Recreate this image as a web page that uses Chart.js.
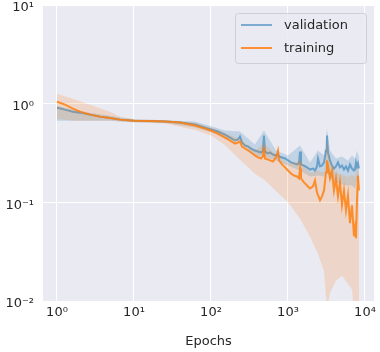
<!DOCTYPE html>
<html>
<head>
<meta charset="utf-8">
<script src="https://cdn.jsdelivr.net/npm/chart.js@4"></script>
<style>
    body { margin: 0; background: #ffffff; }
    #lossChart { display: block; }
</style>
</head>
<body>
<canvas id="lossChart" width="380" height="352"></canvas>
<script>
// Loss curves (validation / training) over epochs, log-log axes

// Mean curves
const epochs = [
    1, 1.27, 1.61, 1.99, 2.68, 3.6, 4.88, 6.6, 10, 16.1,
    25.3, 39.6, 62, 83.6, 103, 123, 152, 177, 205, 224,
    238, 253, 276, 303, 331, 372, 408, 446, 473, 487,
    502, 550, 583, 638, 698, 741, 764, 836, 915, 1000,
    1094, 1197, 1309, 1390, 1432, 1475, 1614, 1766, 1931, 2113,
    2243, 2381, 2453, 2606, 2767, 2938, 3119, 3210, 3306, 3510,
    3724, 3954, 4198, 4457, 4731, 5023, 5333, 5662, 6012, 6380,
    6776, 7194, 7410, 7638, 7870, 8110, 8356
];
const valLoss = [
    0.911, 0.870, 0.830, 0.811, 0.774, 0.739, 0.714, 0.689, 0.673, 0.666,
    0.658, 0.643, 0.614, 0.572, 0.546, 0.522, 0.486, 0.453, 0.423, 0.433,
    0.464, 0.404, 0.376, 0.368, 0.351, 0.335, 0.327, 0.320, 0.335, 0.475,
    0.327, 0.313, 0.320, 0.305, 0.298, 0.305, 0.291, 0.285, 0.278, 0.266,
    0.254, 0.248, 0.242, 0.248, 0.327, 0.242, 0.236, 0.226, 0.215, 0.220,
    0.210, 0.231, 0.278, 0.231, 0.236, 0.254, 0.335, 0.475, 0.320, 0.266,
    0.236, 0.220, 0.231, 0.254, 0.226, 0.236, 0.215, 0.231, 0.210, 0.242,
    0.220, 0.210, 0.215, 0.254, 0.231, 0.248, 0.220
];
const trainLoss = [
    1.047, 0.977, 0.890, 0.830, 0.774, 0.739, 0.714, 0.689, 0.673, 0.666,
    0.658, 0.643, 0.600, 0.559, 0.528, 0.498, 0.453, 0.423, 0.394, 0.404,
    0.413, 0.368, 0.351, 0.335, 0.320, 0.298, 0.285, 0.278, 0.291, 0.359,
    0.278, 0.272, 0.266, 0.259, 0.285, 0.335, 0.266, 0.242, 0.226, 0.210,
    0.196, 0.187, 0.183, 0.175, 0.220, 0.175, 0.159, 0.148, 0.138, 0.145,
    0.167, 0.126, 0.118, 0.105, 0.115, 0.132, 0.201, 0.266, 0.236, 0.175,
    0.210, 0.132, 0.175, 0.115, 0.159, 0.0933, 0.132, 0.0830, 0.118, 0.0614,
    0.0933, 0.0453, 0.0546, 0.0433, 0.105, 0.187, 0.132
];

// Spread bands (upper / lower bound)
const bandEpochs = [
    1, 1.61, 2.68, 4.88, 6.6, 10, 25.3, 62, 103, 152,
    238, 372, 487, 698, 1000, 1432, 1931, 2453, 2938, 3210,
    3510, 4198, 5023, 6012, 6776, 7410, 7870, 8356
];
const valHigh = [
    0.955, 0.870, 0.811, 0.756, 0.722, 0.697, 0.681, 0.658, 0.586, 0.534,
    0.522, 0.385, 0.534, 0.335, 0.298, 0.376, 0.254, 0.335, 0.298, 0.559,
    0.335, 0.278, 0.291, 0.266, 0.298, 0.278, 0.335, 0.285
];
const valLow = [
    0.673, 0.673, 0.673, 0.673, 0.658, 0.650, 0.636, 0.572, 0.510, 0.443,
    0.413, 0.291, 0.291, 0.266, 0.236, 0.210, 0.183, 0.187, 0.183, 0.210,
    0.175, 0.159, 0.152, 0.148, 0.148, 0.138, 0.167, 0.159
];
const trainHigh = [
    1.26, 1.12, 0.977, 0.830, 0.739, 0.697, 0.681, 0.640, 0.570, 0.500,
    0.440, 0.330, 0.400, 0.300, 0.250, 0.260, 0.200, 0.210, 0.200, 0.450,
    0.260, 0.200, 0.190, 0.180, 0.190, 0.180, 0.230, 0.200
];
const trainLow = [
    0.705, 0.673, 0.673, 0.673, 0.658, 0.650, 0.628, 0.540, 0.470, 0.380,
    0.270, 0.195, 0.170, 0.130, 0.100, 0.068, 0.045, 0.030, 0.020, 0.008,
    0.012, 0.016, 0.018, 0.015, 0.013, 0.006, 0.009, 0.007
];

// Axis ticks
const xTicks = [1, 10, 100, 1000, 10000];
const xTickLabels = ['10\u2070', '10\u00b9', '10\u00b2', '10\u00b3', '10\u2074'];
const yTicks = [0.01, 0.1, 1, 10];
const yTickLabels = ['10\u207b\u00b2', '10\u207b\u00b9', '10\u2070', '10\u00b9'];

const seriesNames = ['validation', 'training'];

const FONT = '"DejaVu Sans", sans-serif';
const TEXT_COLOR = '#262626';
const BLUE_LINE = 'rgba(31, 119, 180, 0.55)';
const ORANGE_LINE = 'rgba(255, 127, 14, 0.85)';
const BLUE_BAND = 'rgba(31, 119, 180, 0.2)';
const ORANGE_BAND = 'rgba(255, 127, 14, 0.18)';

function toPoints(xs, ys) {
    return xs.map((x, i) => ({ x: x, y: ys[i] }));
}

// Seaborn-style grey plot background
const plotBackground = {
    id: 'plotBackground',
    beforeDraw(chart) {
        const { ctx, chartArea } = chart;
        ctx.save();
        ctx.fillStyle = '#eaeaf2';
        ctx.fillRect(chartArea.left, chartArea.top,
            chartArea.right - chartArea.left, chartArea.bottom - chartArea.top);
        ctx.restore();
    }
};

// Legend box drawn inside the plot, upper right
const insideLegend = {
    id: 'insideLegend',
    afterDraw(chart) {
        const ctx = chart.ctx;
        const boxX = 235.5, boxY = 13.5, boxW = 131, boxH = 50;
        ctx.save();
        ctx.beginPath();
        ctx.roundRect(boxX, boxY, boxW, boxH, 3);
        ctx.fillStyle = 'rgba(234, 234, 242, 0.8)';
        ctx.fill();
        ctx.strokeStyle = '#cfcfd6';
        ctx.lineWidth = 1;
        ctx.stroke();

        const colors = [BLUE_LINE, ORANGE_LINE];
        const rows = [25, 48];
        ctx.font = '13px ' + FONT;
        ctx.textBaseline = 'middle';
        ctx.fillStyle = TEXT_COLOR;
        seriesNames.forEach((name, i) => {
            ctx.beginPath();
            ctx.moveTo(241, rows[i]);
            ctx.lineTo(272, rows[i]);
            ctx.strokeStyle = colors[i];
            ctx.lineWidth = 2;
            ctx.stroke();
            ctx.fillText(name, 284, rows[i] + 1);
        });
        ctx.restore();
    }
};

const lineStyle = {
    pointRadius: 0,
    borderWidth: 2,
    tension: 0,
    fill: false
};
const bandStyle = {
    pointRadius: 0,
    borderWidth: 0,
    borderColor: 'rgba(0,0,0,0)',
    tension: 0
};

const config = {
    type: 'line',
    data: {
        datasets: [
            Object.assign({ label: 'validation band high', data: toPoints(bandEpochs, valHigh),
                backgroundColor: BLUE_BAND, fill: '+1', order: 3 }, bandStyle),
            Object.assign({ label: 'validation band low', data: toPoints(bandEpochs, valLow),
                fill: false, order: 3 }, bandStyle),
            Object.assign({ label: seriesNames[0], data: toPoints(epochs, valLoss),
                borderColor: BLUE_LINE, order: 2 }, lineStyle),
            Object.assign({ label: 'training band high', data: toPoints(bandEpochs, trainHigh),
                backgroundColor: ORANGE_BAND, fill: '+1', order: 1 }, bandStyle),
            Object.assign({ label: 'training band low', data: toPoints(bandEpochs, trainLow),
                fill: false, order: 1 }, bandStyle),
            Object.assign({ label: seriesNames[1], data: toPoints(epochs, trainLoss),
                borderColor: ORANGE_LINE, order: 0 }, lineStyle)
        ]
    },
    options: {
        responsive: false,
        animation: false,
        devicePixelRatio: 1,
        layout: {
            padding: { left: 0, right: 6, top: 5, bottom: 0 }
        },
        plugins: {
            legend: { display: false },
            tooltip: { enabled: false },
            filler: { propagate: false }
        },
        scales: {
            x: {
                type: 'logarithmic',
                min: 0.658,
                max: 13090,
                border: { display: false },
                grid: { color: '#ffffff', lineWidth: 1, drawTicks: false },
                afterBuildTicks(scale) {
                    scale.ticks = xTicks.map(v => ({ value: v }));
                },
                afterFit(scale) {
                    scale.height = 51;
                    scale.paddingLeft = 0;
                    scale.paddingRight = 0;
                },
                ticks: {
                    autoSkip: false,
                    maxRotation: 0,
                    padding: 4,
                    color: TEXT_COLOR,
                    font: { family: FONT, size: 13 },
                    callback: function(value, index) {
                        return xTickLabels[index];
                    }
                },
                title: {
                    display: true,
                    text: 'Epochs',
                    color: TEXT_COLOR,
                    font: { family: FONT, size: 13 },
                    padding: { top: 0, bottom: 3 }
                }
            },
            y: {
                type: 'logarithmic',
                min: 0.01,
                max: 10,
                border: { display: false },
                grid: { color: '#ffffff', lineWidth: 1, drawTicks: false },
                afterBuildTicks(scale) {
                    scale.ticks = yTicks.map(v => ({ value: v }));
                },
                afterFit(scale) {
                    scale.width = 43;
                    scale.paddingTop = 0;
                    scale.paddingBottom = 0;
                },
                ticks: {
                    autoSkip: false,
                    padding: 9,
                    labelOffset: 3,
                    color: TEXT_COLOR,
                    font: { family: FONT, size: 13 },
                    callback: function(value, index) {
                        return yTickLabels[index];
                    }
                }
            }
        }
    },
    plugins: [plotBackground, insideLegend]
};

new Chart(document.getElementById('lossChart').getContext('2d'), config);
</script>
</body>
</html>
